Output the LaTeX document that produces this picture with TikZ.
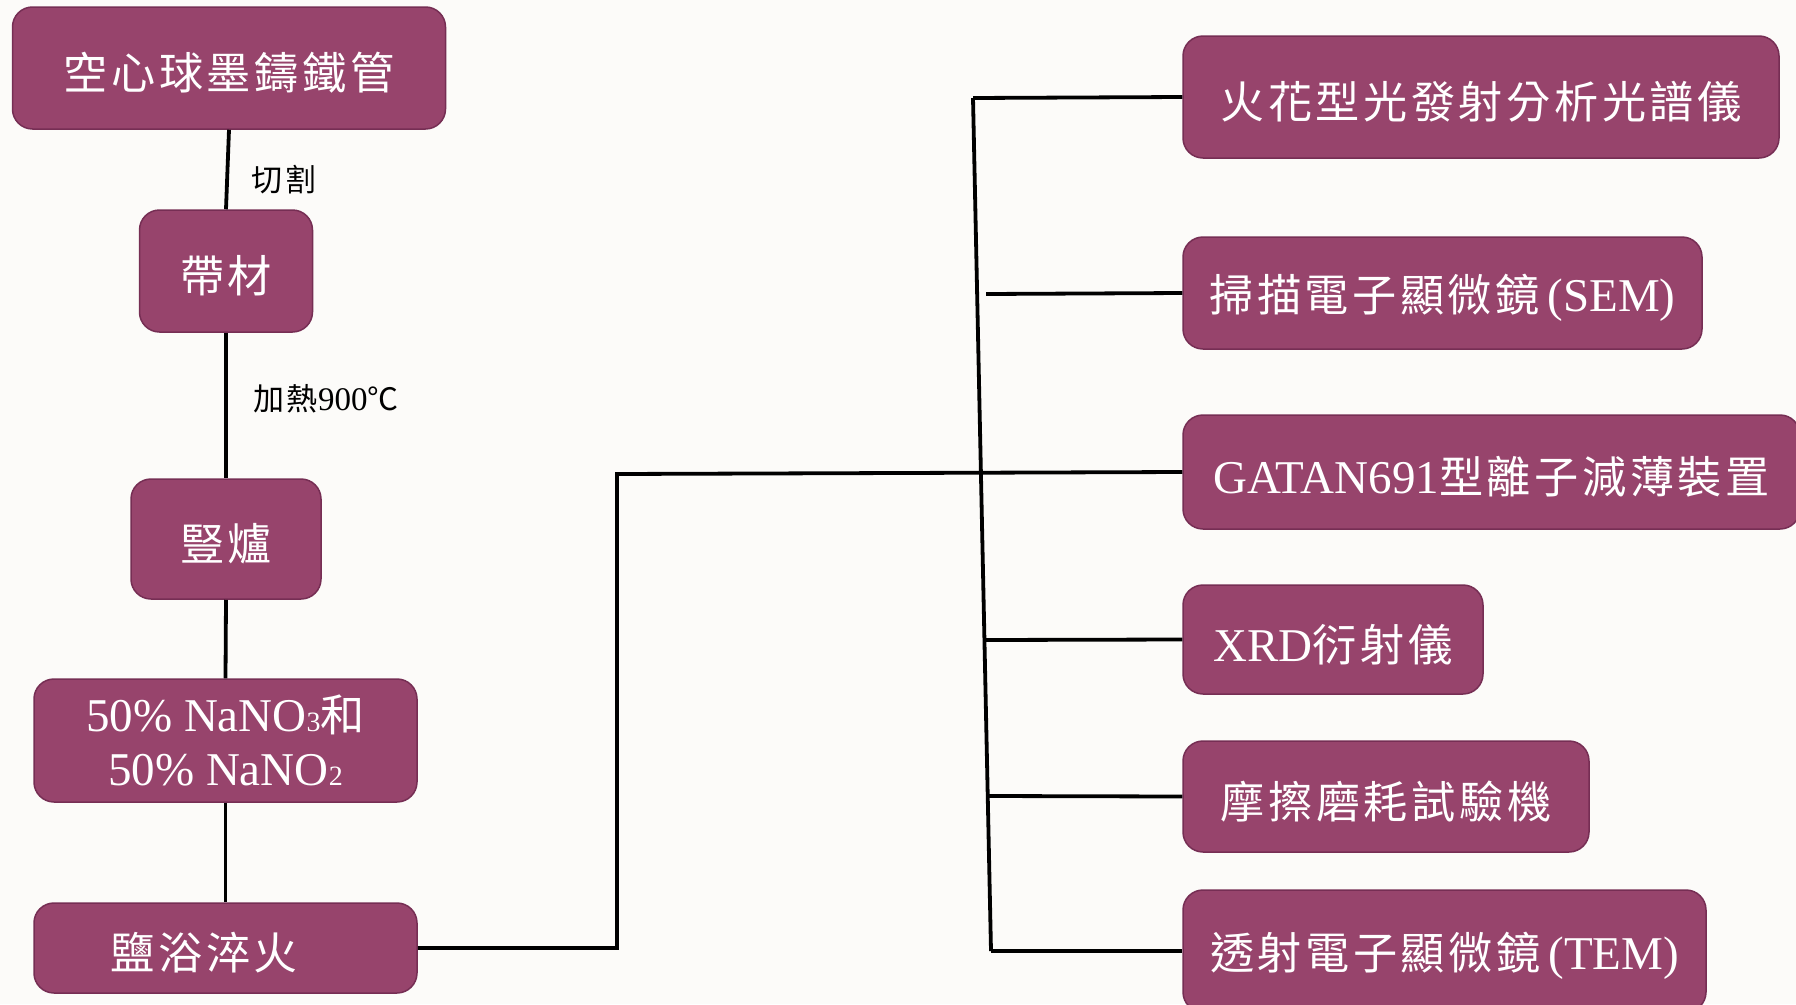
\documentclass[tikz,border=0pt]{standalone}
\usepackage{fontspec}
\setmainfont{Liberation Serif}
\newfontfamily\cjk[LetterSpace=8,Scale=0.94]{Noto Sans CJK TC}
\usetikzlibrary{calc}
\definecolor{boxfill}{RGB}{151,68,108}
\definecolor{boxline}{RGB}{118,46,84}
\definecolor{bgcol}{RGB}{252,251,249}
\newcommand{\smallsub}[1]{{\fontsize{28}{28}\selectfont #1}}
\newcommand{\lowr}[1]{\raisebox{-5pt}[\height][\depth]{#1}}
\begin{document}
\begin{tikzpicture}[x=1pt,y=-1pt,
  box/.style={draw=boxline, fill=boxfill, line width=1.5pt, rounded corners=20pt, inner sep=0pt, text=white, align=center, font=\fontsize{47}{54}\selectfont},
  conn/.style={draw=black, line width=3.8pt},
  lbl/.style={text=black, inner sep=0pt, font=\fontsize{33}{38}\selectfont}]
\path[use as bounding box] (0,0) rectangle (1796,1004);
\clip (0,0) rectangle (1796,1004);
\fill[bgcol] (0,0) rectangle (1796,1004);

% left column
\node[box, minimum width=433pt, minimum height=122pt] (n1) at (229,68) {\lowr{\cjk 空心球墨鑄鐵管}};
\node[box, minimum width=173pt, minimum height=122pt] (n2) at (226,271) {\lowr{\cjk 帶材}};
\node[box, minimum width=190pt, minimum height=120pt] (n3) at (226,539) {\lowr{\cjk 豎爐}};
\node[box, minimum width=383pt, minimum height=123pt] (n4) at (225.5,740.5) {50\% NaNO\smallsub{3}{\cjk 和}\\50\% NaNO\smallsub{2}};
\node[box, minimum width=383pt, minimum height=90pt] (n5) at (225.5,948) {\lowr{\cjk 鹽浴淬火}\kern42pt};

% right column
\node[box, minimum width=596pt, minimum height=122pt] (r1) at (1481,97) {\lowr{\cjk 火花型光發射分析光譜儀}};
\node[box, minimum width=519pt, minimum height=112pt] (r2) at (1442.5,293) {\lowr{{\cjk 掃描電子顯微鏡}\,(SEM)}};
\node[box, minimum width=617pt, minimum height=114pt] (r3) at (1491.5,472) {\lowr{GATAN691{\cjk 型離子減薄裝置}}};
\node[box, minimum width=300pt, minimum height=109pt] (r4) at (1333,639.5) {\lowr{XRD{\cjk 衍射儀}}};
\node[box, minimum width=406pt, minimum height=111pt] (r5) at (1386,796.5) {\lowr{\cjk 摩擦磨耗試驗機}};
\node[box, minimum width=523pt, minimum height=122pt] (r6) at (1444.5,951) {\lowr{{\cjk 透射電子顯微鏡}\,(TEM)}};

% labels
\node[lbl] (l1) at (284,180) {{\cjk 切割}};
\node[lbl] (l2) at (326,399) {{\cjk 加熱}900{\cjk ℃}};

% connector points
\coordinate (t1) at (973,98);
\coordinate (t2) at (991,951);
\coordinate (c1) at (617,474);
\coordinate (b2) at (986,294);
\coordinate (b4) at (984.5,640);
\coordinate (b5) at (988,796);

% connectors
\draw[conn] (n1.south) -- (n2.north);
\draw[conn] (n2.south) -- (n3.north);
\draw[conn] (n3.south) -- (n4.north);
\draw[conn] (n4.south) -- (n5.north);
\draw[conn] (n5.east) -| (c1) -- (r3.west);
\draw[conn] (t1) -- (t2);
\draw[conn] (t1) -- (r1.west);
\draw[conn] (b2) -- (r2.west);
\draw[conn] (b4) -- (r4.west);
\draw[conn] (b5) -- (r5.west);
\draw[conn] (t2) -- (r6.west);
\end{tikzpicture}
\end{document}
